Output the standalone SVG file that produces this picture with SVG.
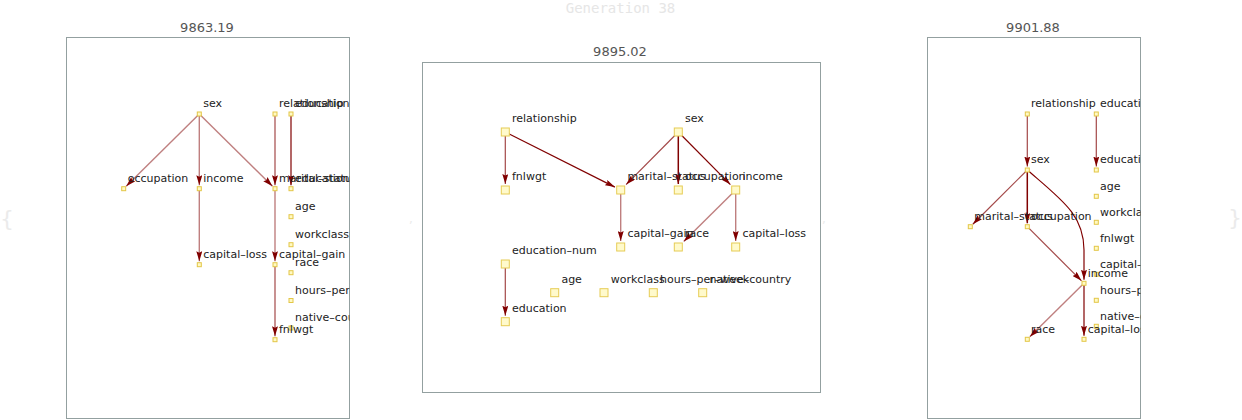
<svg xmlns="http://www.w3.org/2000/svg" width="1242" height="420" viewBox="0 0 1242 420">
<style>
text{font-family:"DejaVu Sans","Liberation Sans",sans-serif}
.lbl{font-size:11px;fill:#222}
.ttl{font-size:13px;fill:#555;text-anchor:middle}
.gen{font-family:"DejaVu Sans Mono","Liberation Mono",monospace;font-size:14px;fill:#e6e6e6;text-anchor:middle}
.faint{fill:#ebebeb}
.frame{fill:#fff;stroke:#93a0a0;stroke-width:1}
.ns{fill:#fff9c4;stroke:#e3c647;stroke-width:1}
.nm{fill:#fffacc;stroke:#e6cc55;stroke-width:1}
.e{fill:none;stroke:#800000;stroke-width:1.2;marker-end:url(#ah)}
.ea{stroke-opacity:0.5;stroke-width:1.4}
.eb{stroke-opacity:0.72}
.ec{stroke-opacity:1}
</style>
<defs>
<marker id="ah" markerUnits="userSpaceOnUse" markerWidth="10" markerHeight="6" refX="10" refY="3" orient="auto" viewBox="0 0 10 6">
<path d="M0,0 L10,3 L0,6 L1.5,3 z" fill="#800000"/>
</marker>
<clipPath id="cl"><rect x="66.5" y="37.5" width="283" height="381"/></clipPath>
<clipPath id="cm"><rect x="422.5" y="62.5" width="398" height="330"/></clipPath>
<clipPath id="cr"><rect x="927.5" y="37.5" width="213" height="381"/></clipPath>
</defs>
<rect width="1242" height="420" fill="#fff"/>
<text class="gen" x="620.5" y="12.5">Generation 38</text>
<text class="faint" x="0" y="226" style="font-size:22px">{</text>
<text class="faint" x="409" y="223" style="font-size:12px">,</text>
<text class="faint" x="822" y="223" style="font-size:12px">,</text>
<text class="faint" x="1228" y="225" style="font-size:22px">}</text>

<!-- LEFT PANEL -->
<g id="panel-left">
<text class="ttl" x="207" y="32">9863.19</text>
<rect class="frame" x="66.5" y="37.5" width="283" height="381"/>
<g clip-path="url(#cl)">
<g id="connectors-left">
<path class="e ea" d="M199.3,114 L126.2,186.2"/>
<path class="e ea" d="M199.3,114 L199.3,185.2"/>
<path class="e ea" d="M199.3,114 L272.5,186.2"/>
<path class="e eb" d="M275,114 L275,185.2"/>
<path class="e ec" d="M291,114 L291,185.2"/>
<path class="e ea" d="M199.3,188.7 L199.3,261.2"/>
<path class="e ea" d="M275,188.7 L275,261.2"/>
<path class="e eb" d="M275,264.7 L275,336.2"/>
</g>
<g id="L-sex"><rect class="ns" x="197.3" y="112" width="4" height="4"/><text class="lbl" x="203.3" y="107.3">sex</text></g>
<g id="L-relationship"><rect class="ns" x="273" y="112" width="4" height="4"/><text class="lbl" x="279" y="107.3">relationship</text></g>
<g id="L-education-num"><rect class="ns" x="289" y="112" width="4" height="4"/><text class="lbl" x="295" y="107.3">education–num</text></g>
<g id="L-occupation"><rect class="ns" x="121.7" y="186.7" width="4" height="4"/><text class="lbl" x="127.7" y="182">occupation</text></g>
<g id="L-income"><rect class="ns" x="197.3" y="186.7" width="4" height="4"/><text class="lbl" x="203.3" y="182">income</text></g>
<g id="L-marital-status"><rect class="ns" x="273" y="186.7" width="4" height="4"/><text class="lbl" x="279" y="182">marital–status</text></g>
<g id="L-education"><rect class="ns" x="289" y="186.7" width="4" height="4"/><text class="lbl" x="295" y="182">education</text></g>
<g id="L-age"><rect class="ns" x="289" y="214.7" width="4" height="4"/><text class="lbl" x="295" y="210">age</text></g>
<g id="L-workclass"><rect class="ns" x="289" y="242.7" width="4" height="4"/><text class="lbl" x="295" y="238">workclass</text></g>
<g id="L-capital-loss"><rect class="ns" x="197.3" y="262.7" width="4" height="4"/><text class="lbl" x="203.3" y="258">capital–loss</text></g>
<g id="L-capital-gain"><rect class="ns" x="273" y="262.7" width="4" height="4"/><text class="lbl" x="279" y="258">capital–gain</text></g>
<g id="L-race"><rect class="ns" x="289" y="270.7" width="4" height="4"/><text class="lbl" x="295" y="266">race</text></g>
<g id="L-hours-per-week"><rect class="ns" x="289" y="298.5" width="4" height="4"/><text class="lbl" x="295" y="293.8">hours–per–week</text></g>
<g id="L-native-country"><rect class="ns" x="289" y="326" width="4" height="4"/><text class="lbl" x="295" y="321.3">native–country</text></g>
<g id="L-fnlwgt"><rect class="ns" x="273" y="337.7" width="4" height="4"/><text class="lbl" x="279" y="333">fnlwgt</text></g>
</g>
</g>

<!-- MIDDLE PANEL -->
<g id="panel-middle">
<text class="ttl" x="620" y="56">9895.02</text>
<rect class="frame" x="422.5" y="62.5" width="398" height="330"/>
<g clip-path="url(#cm)">
<g id="connectors-middle">
<path class="e eb" d="M505.3,132 L505.3,184"/>
<path class="e ec" d="M505.3,132 L614.9,187.1"/>
<path class="e eb" d="M678.3,132 L626.1,184.6"/>
<path class="e ec" style="stroke-width:1.5" d="M678.3,132 L678.3,184"/>
<path class="e ec" d="M678.3,132 L730.4,184.6"/>
<path class="e ea" d="M620.7,190 L620.7,241"/>
<path class="e ea" d="M735.7,190 L683.7,241.6"/>
<path class="e ea" d="M735.7,190 L735.7,241"/>
<path class="e eb" d="M505.3,264 L505.3,315.7"/>
</g>
<g id="M-relationship"><rect class="nm" x="501.3" y="128" width="8" height="8"/><text class="lbl" x="512" y="122">relationship</text></g>
<g id="M-sex"><rect class="nm" x="674.3" y="128" width="8" height="8"/><text class="lbl" x="685" y="122">sex</text></g>
<g id="M-fnlwgt"><rect class="nm" x="501.3" y="186" width="8" height="8"/><text class="lbl" x="512" y="180">fnlwgt</text></g>
<g id="M-marital-status"><rect class="nm" x="616.7" y="186" width="8" height="8"/><text class="lbl" x="627.4" y="180">marital–status</text></g>
<g id="M-occupation"><rect class="nm" x="674.3" y="186" width="8" height="8"/><text class="lbl" x="685" y="180">occupation</text></g>
<g id="M-income"><rect class="nm" x="731.7" y="186" width="8" height="8"/><text class="lbl" x="742.4" y="180">income</text></g>
<g id="M-capital-gain"><rect class="nm" x="616.7" y="243" width="8" height="8"/><text class="lbl" x="627.4" y="237">capital–gain</text></g>
<g id="M-race"><rect class="nm" x="674.3" y="243" width="8" height="8"/><text class="lbl" x="685" y="237">race</text></g>
<g id="M-capital-loss"><rect class="nm" x="731.7" y="243" width="8" height="8"/><text class="lbl" x="742.4" y="237">capital–loss</text></g>
<g id="M-education-num"><rect class="nm" x="501.3" y="260" width="8" height="8"/><text class="lbl" x="512" y="254">education–num</text></g>
<g id="M-age"><rect class="nm" x="550.7" y="288.7" width="8" height="8"/><text class="lbl" x="561.4" y="282.7">age</text></g>
<g id="M-workclass"><rect class="nm" x="600" y="288.7" width="8" height="8"/><text class="lbl" x="610.7" y="282.7">workclass</text></g>
<g id="M-hours-per-week"><rect class="nm" x="649.3" y="288.7" width="8" height="8"/><text class="lbl" x="660" y="282.7">hours–per–week</text></g>
<g id="M-native-country"><rect class="nm" x="698.7" y="288.7" width="8" height="8"/><text class="lbl" x="709.4" y="282.7">native–country</text></g>
<g id="M-education"><rect class="nm" x="501.3" y="317.7" width="8" height="8"/><text class="lbl" x="512" y="311.7">education</text></g>
</g>
</g>

<!-- RIGHT PANEL -->
<g id="panel-right">
<text class="ttl" x="1033" y="32">9901.88</text>
<rect class="frame" x="927.5" y="37.5" width="213" height="381"/>
<g clip-path="url(#cr)">
<g id="connectors-right">
<path class="e eb" d="M1027.3,114 L1027.3,166.5"/>
<path class="e eb" d="M1096.3,114 L1096.3,166.5"/>
<path class="e eb" d="M1027.3,170 L972.8,224.2"/>
<path class="e ec" style="stroke-width:1.5" d="M1027.3,170 L1027.3,223.2"/>
<path class="e ec" d="M1027.3,170 C1062,200 1084,215 1084,250 L1084,279.8"/>
<path class="e eb" d="M1027.3,226.7 L1081.5,280.8"/>
<path class="e ea" d="M1084,283.3 L1029.8,336.8"/>
<path class="e ec" d="M1084,283.3 L1084,335.8"/>
</g>
<g id="R-relationship"><rect class="ns" x="1025.3" y="112" width="4" height="4"/><text class="lbl" x="1031" y="107.3">relationship</text></g>
<g id="R-education-num"><rect class="ns" x="1094.3" y="112" width="4" height="4"/><text class="lbl" x="1100" y="107.3">education–num</text></g>
<g id="R-sex"><rect class="ns" x="1025.3" y="168" width="4" height="4"/><text class="lbl" x="1031" y="163.3">sex</text></g>
<g id="R-education"><rect class="ns" x="1094.3" y="168" width="4" height="4"/><text class="lbl" x="1100" y="163.3">education</text></g>
<g id="R-age"><rect class="ns" x="1094.3" y="194.3" width="4" height="4"/><text class="lbl" x="1100" y="189.6">age</text></g>
<g id="R-workclass"><rect class="ns" x="1094.3" y="220.3" width="4" height="4"/><text class="lbl" x="1100" y="215.6">workclass</text></g>
<g id="R-marital-status"><rect class="ns" x="968.3" y="224.7" width="4" height="4"/><text class="lbl" x="974.3" y="220">marital–status</text></g>
<g id="R-occupation"><rect class="ns" x="1025.3" y="224.7" width="4" height="4"/><text class="lbl" x="1031" y="220">occupation</text></g>
<g id="R-fnlwgt"><rect class="ns" x="1094.3" y="246.3" width="4" height="4"/><text class="lbl" x="1100" y="241.6">fnlwgt</text></g>
<g id="R-capital-gain"><rect class="ns" x="1094.3" y="272.3" width="4" height="4"/><text class="lbl" x="1100" y="267.6">capital–gain</text></g>
<g id="R-income"><rect class="ns" x="1082" y="281.3" width="4" height="4"/><text class="lbl" x="1087.7" y="276.6">income</text></g>
<g id="R-hours-per-week"><rect class="ns" x="1094.3" y="298.3" width="4" height="4"/><text class="lbl" x="1100" y="293.6">hours–per–week</text></g>
<g id="R-native-country"><rect class="ns" x="1094.3" y="324.3" width="4" height="4"/><text class="lbl" x="1100" y="319.6">native–country</text></g>
<g id="R-race"><rect class="ns" x="1025.3" y="337.3" width="4" height="4"/><text class="lbl" x="1031" y="332.6">race</text></g>
<g id="R-capital-loss"><rect class="ns" x="1082" y="337.3" width="4" height="4"/><text class="lbl" x="1087.7" y="332.6">capital–loss</text></g>
</g>
</g>
</svg>
